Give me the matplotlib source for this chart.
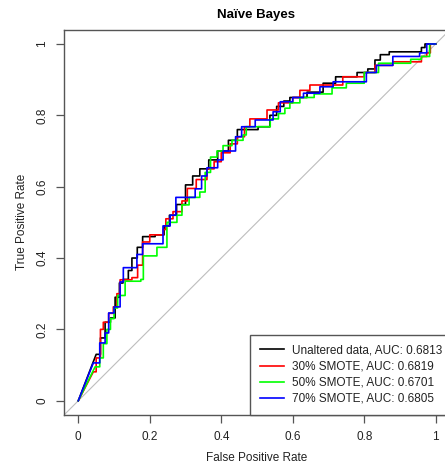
import numpy as np
import matplotlib
matplotlib.use("Agg")
import matplotlib.pyplot as plt
from matplotlib.lines import Line2D

plt.rcParams['font.family'] = ['Liberation Sans', 'DejaVu Sans']

title = "Naïve Bayes"
xlabel = "False Positive Rate"
ylabel = "True Positive Rate"
ticks = [0, 0.2, 0.4, 0.6, 0.8, 1.0]
tick_labels = ["0", "0.2", "0.4", "0.6", "0.8", "1"]

names = ["Unaltered data, AUC: 0.6813", "30% SMOTE, AUC: 0.6819",
         "50% SMOTE, AUC: 0.6701", "70% SMOTE, AUC: 0.6805"]
colors = ["#000000", "#FF0000", "#00FF00", "#0000FF"]

# step corner points (after each vertical rise)
black_fpr = [0.050, 0.062, 0.075, 0.090, 0.103, 0.115, 0.125, 0.140, 0.150, 0.165, 0.180, 0.215,
             0.240, 0.255, 0.275, 0.300, 0.320, 0.340, 0.365, 0.390, 0.420, 0.445, 0.503, 0.536,
             0.555, 0.575, 0.592, 0.640, 0.685, 0.720, 0.780, 0.810, 0.830, 0.845, 0.870, 0.960, 0.970]
black_tpr = [0.130, 0.176, 0.220, 0.232, 0.290, 0.330, 0.340, 0.365, 0.400, 0.430, 0.460, 0.465,
             0.490, 0.520, 0.550, 0.605, 0.630, 0.650, 0.675, 0.700, 0.730, 0.760, 0.768, 0.800,
             0.825, 0.840, 0.850, 0.865, 0.890, 0.908, 0.920, 0.930, 0.955, 0.970, 0.978, 0.990, 1.000]

red_fpr = [0.042, 0.050, 0.062, 0.070, 0.085, 0.098, 0.108, 0.117, 0.150, 0.166, 0.180, 0.200,
           0.238, 0.245, 0.265, 0.290, 0.305, 0.330, 0.360, 0.380, 0.400, 0.425, 0.445, 0.465,
           0.480, 0.528, 0.560, 0.600, 0.620, 0.648, 0.740, 0.800, 0.830, 0.880, 0.960, 0.975, 0.985]
red_tpr = [0.081, 0.120, 0.200, 0.220, 0.245, 0.263, 0.300, 0.339, 0.345, 0.380, 0.445, 0.465,
           0.480, 0.510, 0.530, 0.560, 0.595, 0.620, 0.650, 0.670, 0.695, 0.720, 0.740, 0.768,
           0.790, 0.815, 0.835, 0.850, 0.870, 0.885, 0.908, 0.920, 0.940, 0.950, 0.965, 0.975, 1.000]

green_fpr = [0.047, 0.060, 0.070, 0.080, 0.090, 0.100, 0.110, 0.131, 0.175, 0.182, 0.220, 0.248,
             0.276, 0.290, 0.310, 0.340, 0.355, 0.370, 0.388, 0.405, 0.430, 0.461, 0.470, 0.537,
             0.560, 0.578, 0.592, 0.620, 0.660, 0.710, 0.750, 0.800, 0.840, 0.930, 0.960, 0.983]
green_tpr = [0.095, 0.120, 0.160, 0.200, 0.230, 0.260, 0.295, 0.335, 0.340, 0.406, 0.430, 0.500,
             0.520, 0.549, 0.570, 0.585, 0.640, 0.683, 0.700, 0.715, 0.730, 0.745, 0.768, 0.790,
             0.805, 0.820, 0.835, 0.850, 0.860, 0.877, 0.890, 0.920, 0.946, 0.957, 0.965, 1.000]

blue_fpr = [0.042, 0.060, 0.075, 0.085, 0.100, 0.117, 0.126, 0.164, 0.180, 0.237, 0.257, 0.273,
            0.327, 0.345, 0.360, 0.390, 0.405, 0.440, 0.457, 0.495, 0.545, 0.565, 0.600, 0.630,
            0.676, 0.713, 0.806, 0.834, 0.880, 0.955, 0.975]
blue_tpr = [0.106, 0.162, 0.190, 0.246, 0.263, 0.333, 0.373, 0.410, 0.440, 0.490, 0.520, 0.570,
            0.594, 0.630, 0.653, 0.675, 0.700, 0.740, 0.768, 0.787, 0.810, 0.838, 0.850, 0.862,
            0.880, 0.894, 0.920, 0.940, 0.965, 0.975, 1.000]

curves = [(black_fpr, black_tpr), (red_fpr, red_tpr), (green_fpr, green_tpr), (blue_fpr, blue_tpr)]


def step_path(fpr, tpr):
    xs = [0.0, fpr[0]]
    ys = [0.0, tpr[0]]
    for k in range(1, len(fpr)):
        xs += [fpr[k], fpr[k]]
        ys += [tpr[k - 1], tpr[k]]
    xs.append(1.0)
    ys.append(tpr[-1])
    return np.array(xs), np.array(ys)


W, H = 445, 465
fig = plt.figure(figsize=(W / 100, H / 100), dpi=100)
ax_l, ax_r, ax_t, ax_b = 64, 450, 29.7, 415
ax = fig.add_axes([ax_l / W, 1 - ax_b / H, (ax_r - ax_l) / W, (ax_b - ax_t) / H])
ax.set_xlim(-0.04, 1.04)
ax.set_ylim(-0.04, 1.04)

ax.plot([-0.04, 1.04], [-0.04, 1.04], color="#bdbdbd", lw=0.8, zorder=1)
for (f, t), c in zip(curves, colors):
    xs, ys = step_path(f, t)
    ax.plot(xs, ys, color=c, lw=1.2, zorder=2)

for s in ax.spines.values():
    s.set_color("#555555")
    s.set_linewidth(1.0)

fs = 8.5
ax.set_xticks(ticks)
ax.set_xticklabels(tick_labels, fontsize=fs, color="#222222")
ax.set_yticks(ticks)
ax.set_yticklabels(tick_labels, fontsize=fs, color="#222222", rotation=90, va="center")
ax.tick_params(direction="out", length=5.5, width=0.9, color="#555555", pad=6)

axw = ax_r - ax_l
axh = ax_b - ax_t
ax.text(0.5, -43 / axh, xlabel, transform=ax.transAxes, ha="center", va="center", fontsize=fs, color="#222222")
ax.text(-42 / axw, 0.5, ylabel, transform=ax.transAxes, ha="center", va="center", rotation=90, fontsize=fs, color="#222222")
ax.text((256 - ax_l) / axw, 1 + (ax_t - 15) / axh, title, transform=ax.transAxes, ha="center", va="center",
        fontsize=9.5, fontweight="bold")

handles = [Line2D([], [], color=c, lw=1.2) for c in colors]
leg = ax.legend(handles, names, loc="lower left", bbox_to_anchor=((250 - ax_l) / axw, 0.0),
                borderaxespad=0, fancybox=False, frameon=True, fontsize=fs, handlelength=2.0,
                handletextpad=0.7, labelspacing=0.35, borderpad=0.85)
leg.get_frame().set_edgecolor("#555555")
leg.get_frame().set_linewidth(1.0)
leg.get_frame().set_alpha(1)
for t in leg.get_texts():
    t.set_color("#222222")

fig.savefig("out.png", dpi=100)
